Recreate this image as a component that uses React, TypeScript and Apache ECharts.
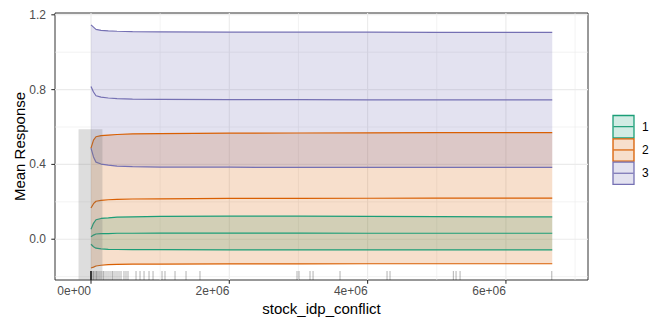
import { useEffect, useRef } from "react";
import * as echarts from "echarts";

// Response classes and their Dark2 colours
const classes = ["1", "2", "3"];
const lineColors = ["#1B9E77", "#D95F02", "#7570B3"];
const ribbonFills = ["rgba(27,158,119,0.2)", "rgba(217,95,2,0.2)", "rgba(117,112,179,0.2)"];

// Grid of predictor values where the mean response was evaluated
const stockIdpConflict = [0, 36000, 72000, 145000, 250000, 376000, 600000, 1000000, 2000000, 3000000, 4000000, 5000000, 6000000, 6670000];

// Class 1
const upper1 = [0.053, 0.085, 0.104, 0.111, 0.114, 0.118, 0.120, 0.122, 0.123, 0.123, 0.122, 0.121, 0.120, 0.120];
const mean1 = [0.013, 0.022, 0.028, 0.030, 0.030, 0.032, 0.032, 0.033, 0.033, 0.033, 0.032, 0.032, 0.032, 0.032];
const lower1 = [-0.027, -0.040, -0.048, -0.052, -0.054, -0.055, -0.056, -0.056, -0.057, -0.057, -0.057, -0.057, -0.057, -0.057];

// Class 2
const upper2 = [0.487, 0.530, 0.548, 0.554, 0.557, 0.560, 0.563, 0.565, 0.567, 0.568, 0.569, 0.570, 0.570, 0.570];
const mean2 = [0.167, 0.190, 0.203, 0.208, 0.211, 0.213, 0.215, 0.216, 0.218, 0.218, 0.219, 0.220, 0.220, 0.220];
const lower2 = [-0.154, -0.149, -0.143, -0.139, -0.136, -0.134, -0.133, -0.133, -0.132, -0.132, -0.131, -0.131, -0.131, -0.131];

// Class 3
const upper3 = [1.146, 1.134, 1.122, 1.117, 1.114, 1.112, 1.110, 1.109, 1.107, 1.107, 1.107, 1.106, 1.106, 1.106];
const mean3 = [0.817, 0.787, 0.767, 0.760, 0.755, 0.752, 0.749, 0.748, 0.746, 0.746, 0.745, 0.745, 0.745, 0.745];
const lower3 = [0.487, 0.440, 0.412, 0.402, 0.396, 0.391, 0.388, 0.386, 0.385, 0.384, 0.384, 0.384, 0.384, 0.384];

const uppers = [upper1, upper2, upper3];
const means = [mean1, mean2, mean3];
const lowers = [lower1, lower2, lower3];

// Observed predictor values (rug)
const rugX = [
  0, 0, 0, 0, 0, 0, 0, 0, 28900, 43000, 72000, 87000, 116000, 145000, 174000, 188000, 217000, 246000,
  275000, 304000, 318000, 347000, 376000, 405000, 434000, 477000, 506000, 535000, 651000, 709000,
  767000, 839000, 897000, 1027000, 1070000, 1215000, 1374000, 1576000, 2979000, 3008000, 3167000,
  3211000, 3601000, 4281000, 4324000, 5240000, 5279000, 5337000, 6663000,
];

// Shaded density region near zero
const boxX = [-180000, 165000];
const boxTop = 0.588;

// Axis ticks
const xTicks = [0, 2000000, 4000000, 6000000];
const xMinorTicks = [1000000, 3000000, 5000000, 7000000];
const yTicks = [0, 0.4, 0.8, 1.2];
const yMinorTicks = [-0.2, 0.2, 0.6, 1.0];

const X_MIN = -520600;
const X_MAX = 7187000;
const Y_MIN = -0.218;
const Y_MAX = 1.2096;

const FONT = "Liberation Sans, Arial, Helvetica, sans-serif";

function sci(v: number): string {
  if (v === 0) return "0e+00";
  const exp = Math.floor(Math.log10(Math.abs(v)));
  const mant = v / Math.pow(10, exp);
  const sign = exp < 0 ? "-" : "+";
  return `${Math.round(mant)}e${sign}${String(Math.abs(exp)).padStart(2, "0")}`;
}

export default function App() {
  const ref = useRef<HTMLDivElement>(null);

  useEffect(() => {
    if (!ref.current) return;
    const chart = echarts.init(ref.current, null, { renderer: "svg" });

    // Panel grid lines
    const gridSeries = {
      type: "custom",
      z: 1,
      silent: true,
      clip: false,
      data: [[0, 0]],
      renderItem: (params: any, api: any) => {
        const cs = params.coordSys;
        const children: any[] = [];
        const vLine = (v: number, w: number) => {
          const x = api.coord([v, Y_MIN])[0];
          children.push({
            type: "line",
            shape: { x1: x, y1: cs.y, x2: x, y2: cs.y + cs.height },
            style: { stroke: "#EBEBEB", lineWidth: w },
          });
        };
        const hLine = (v: number, w: number) => {
          const y = api.coord([X_MIN, v])[1];
          children.push({
            type: "line",
            shape: { x1: cs.x, y1: y, x2: cs.x + cs.width, y2: y },
            style: { stroke: "#EBEBEB", lineWidth: w },
          });
        };
        xMinorTicks.forEach((v) => vLine(v, 0.6));
        yMinorTicks.forEach((v) => hLine(v, 0.6));
        xTicks.forEach((v) => vLine(v, 1.1));
        yTicks.forEach((v) => hLine(v, 1.1));
        return { type: "group", children };
      },
    };

    // Tick marks and tick labels
    const axesSeries = {
      type: "custom",
      z: 6,
      silent: true,
      clip: false,
      data: [[0, 0]],
      renderItem: (params: any, api: any) => {
        const cs = params.coordSys;
        const bottom = cs.y + cs.height;
        const left = cs.x;
        const children: any[] = [];
        xTicks.forEach((v) => {
          const x = api.coord([v, Y_MIN])[0];
          children.push({
            type: "line",
            shape: { x1: x, y1: bottom, x2: x, y2: bottom + 3.7 },
            style: { stroke: "#333333", lineWidth: 1.1 },
          });
          children.push({
            type: "text",
            x: x,
            y: bottom + 10.5,
            style: {
              text: sci(v),
              fill: "#4D4D4D",
              font: `12px ${FONT}`,
              textAlign: "right",
              textVerticalAlign: "middle",
            },
          });
        });
        yTicks.forEach((v) => {
          const y = api.coord([X_MIN, v])[1];
          children.push({
            type: "line",
            shape: { x1: left - 3.7, y1: y, x2: left, y2: y },
            style: { stroke: "#333333", lineWidth: 1.1 },
          });
          children.push({
            type: "text",
            x: left - 9,
            y: y,
            style: {
              text: v.toFixed(1),
              fill: "#4D4D4D",
              font: `12px ${FONT}`,
              textAlign: "right",
              textVerticalAlign: "middle",
            },
          });
        });
        return { type: "group", children };
      },
    };

    const ribbonSeries = classes.map((c, k) => ({
      type: "custom",
      name: `ribbon ${c}`,
      z: 2,
      silent: true,
      data: [[0, 0]],
      renderItem: (_params: any, api: any) => {
        const top = stockIdpConflict.map((x, i) => api.coord([x, uppers[k][i]]));
        const bottom = stockIdpConflict.map((x, i) => api.coord([x, lowers[k][i]])).reverse();
        return {
          type: "polygon",
          shape: { points: top.concat(bottom) },
          style: { fill: ribbonFills[k], stroke: "none" },
        };
      },
    }));

    const lineSeries: any[] = [];
    classes.forEach((c, k) => {
      [uppers[k], means[k], lowers[k]].forEach((arr, j) => {
        lineSeries.push({
          type: "line",
          name: `${c}-${j}`,
          z: 3,
          silent: true,
          symbol: "none",
          lineStyle: { color: lineColors[k], width: 1.2 },
          data: stockIdpConflict.map((x, i) => [x, arr[i]]),
        });
      });
    });

    const boxSeries = {
      type: "custom",
      z: 4,
      silent: true,
      data: [[0, 0]],
      renderItem: (_params: any, api: any) => {
        const p1 = api.coord([boxX[0], boxTop]);
        const p2 = api.coord([boxX[1], Y_MIN]);
        return {
          type: "rect",
          shape: { x: p1[0], y: p1[1], width: p2[0] - p1[0], height: p2[1] - p1[1] },
          style: { fill: "rgba(120,120,120,0.25)" },
        };
      },
    };

    const rugSeries = {
      type: "custom",
      z: 5,
      silent: true,
      data: rugX.map((x) => [x, Y_MIN]),
      renderItem: (_params: any, api: any) => {
        const p = api.coord([api.value(0), Y_MIN]);
        return {
          type: "line",
          shape: { x1: p[0], y1: p[1], x2: p[0], y2: p[1] - 9 },
          style: { stroke: "rgba(0,0,0,0.28)", lineWidth: 1.1 },
        };
      },
    };

    // Legend keys
    const legendGraphics: any[] = [];
    classes.forEach((c, k) => {
      const y0 = 115.5 + k * 23.3;
      legendGraphics.push(
        {
          type: "rect",
          shape: { x: 613, y: y0, width: 21, height: 22.3 },
          style: { fill: ribbonFills[k], stroke: lineColors[k], lineWidth: 1.3 },
        },
        {
          type: "line",
          shape: { x1: 613.5, y1: y0 + 11.15, x2: 633.5, y2: y0 + 11.15 },
          style: { stroke: lineColors[k], lineWidth: 1.2 },
        },
        {
          type: "text",
          x: 642,
          y: y0 + 11.15,
          style: { text: c, fill: "#000", font: `12px ${FONT}`, textVerticalAlign: "middle" },
        }
      );
    });

    chart.setOption({
      animation: false,
      backgroundColor: "#fff",
      grid: {
        left: 55,
        right: 64,
        top: 13,
        bottom: 40,
        show: true,
        backgroundColor: "#fff",
        borderColor: "#333333",
        borderWidth: 1,
        containLabel: false,
      },
      xAxis: {
        type: "value",
        min: X_MIN,
        max: X_MAX,
        name: "stock_idp_conflict",
        nameLocation: "middle",
        nameGap: 21,
        nameTextStyle: { fontFamily: FONT, fontSize: 15, color: "#000", verticalAlign: "top" },
        axisLine: { show: false },
        axisTick: { show: false },
        axisLabel: { show: false },
        splitLine: { show: false },
      },
      yAxis: {
        type: "value",
        min: Y_MIN,
        max: Y_MAX,
        name: "Mean Response",
        nameLocation: "middle",
        nameGap: 28,
        nameRotate: 90,
        nameTextStyle: { fontFamily: FONT, fontSize: 15, color: "#000" },
        axisLine: { show: false },
        axisTick: { show: false },
        axisLabel: { show: false },
        splitLine: { show: false },
      },
      graphic: legendGraphics,
      series: [gridSeries, ...ribbonSeries, ...lineSeries, boxSeries, rugSeries, axesSeries],
    });

    return () => chart.dispose();
  }, []);

  return <div ref={ref} style={{ width: 652, height: 321, position: "absolute", left: 0, top: 0 }} />;
}
